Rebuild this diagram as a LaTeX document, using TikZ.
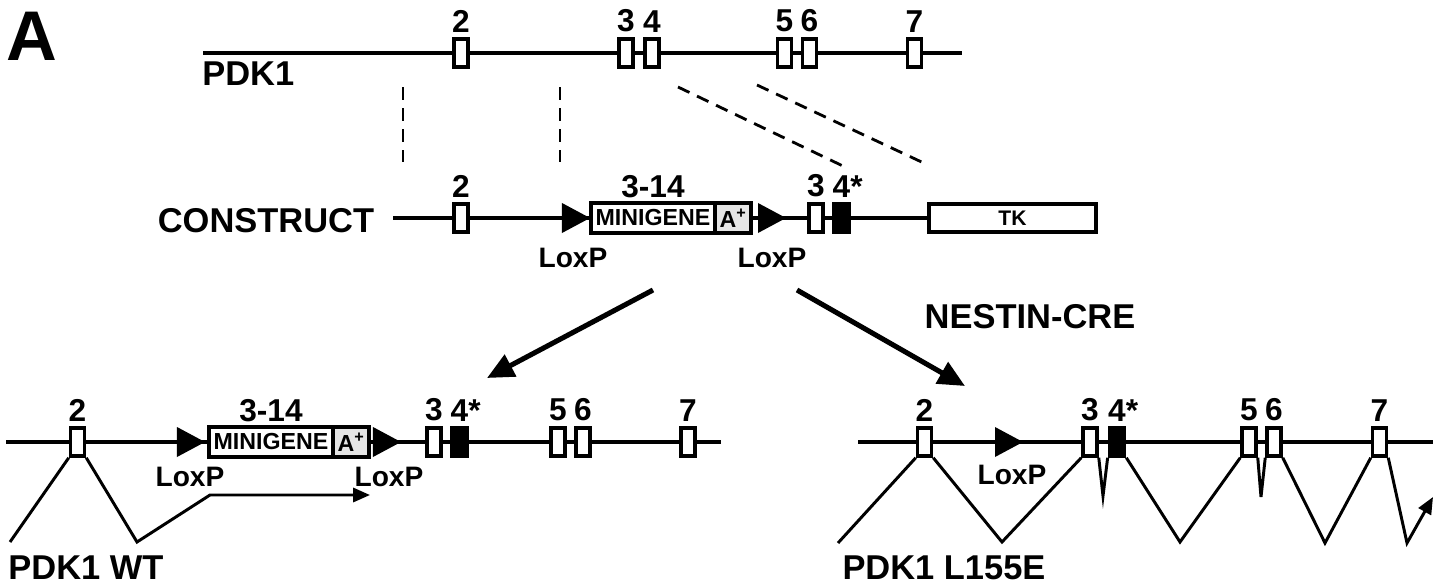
\documentclass[tikz,border=0pt]{standalone}
\usepackage{fontspec}
\setmainfont{Liberation Sans}
\usetikzlibrary{shapes.geometric, arrows.meta, positioning}

\begin{document}
\begin{tikzpicture}[
  x=0.025cm, y=-0.025cm,
  dna/.style={line width=2.85pt},
  splice/.style={line width=2.1pt},
  link/.style={line width=2pt, dash pattern=on 9pt off 6pt},
  exon/.style={rectangle, draw, line width=2.5pt, fill=white, minimum width=0.35cm,
               minimum height=0.7cm, inner sep=0pt},
  mut/.style={exon, fill=black, minimum width=0.38cm},
  loxp/.style={isosceles triangle, isosceles triangle stretches, fill=black, inner sep=0pt,
               outer sep=0pt, minimum width=0.75cm, minimum height=0.7cm, anchor=apex},
  mini/.style={rectangle, draw, line width=2.85pt, fill=white, minimum width=3.1cm,
               minimum height=0.73cm, inner sep=0pt, outer sep=0pt,
               font=\bfseries\fontsize{16.5}{16.5}\selectfont},
  polya/.style={mini, fill=black!10, minimum width=0.9cm},
  tkbox/.style={rectangle, draw, line width=2.85pt, fill=white, minimum width=4.18cm,
                minimum height=0.68cm, inner sep=0pt, font=\bfseries\fontsize{15}{15}\selectfont},
  num/.style={font=\bfseries\fontsize{22.5}{22.5}\selectfont, inner sep=0pt},
  lox/.style={font=\bfseries\fontsize{20}{20}\selectfont, inner sep=0pt},
  big/.style={font=\bfseries\fontsize{24.5}{24.5}\selectfont, inner sep=0pt, anchor=base},
  cre/.style={-{Triangle[length=19pt, width=17pt]}, line width=3.6pt},
  tx/.style={-{Triangle[length=12pt, width=10pt]}, splice},
  every label/.style={num, yshift=3.5pt},
]
\useasboundingbox (0,0) rectangle (1448,586);

\node[font=\bfseries\fontsize{50}{50}\selectfont, inner sep=0pt, anchor=base west] (panel) at (6,60) {A};

% endogenous locus
\coordinate (tl) at (203,53);
\coordinate (tr) at (962,53);
\draw[dna] (tl) -- (tr);
\node[exon, label=above:2] (t2) at (461,53) {};
\node[exon, label=above:3] (t3) at (626,53) {};
\node[exon, label=above:4] (t4) at (652,53) {};
\node[exon, label=above:5] (t5) at (784.5,53) {};
\node[exon, label=above:6] (t6) at (809.5,53) {};
\node[exon, label=above:7] (t7) at (914.5,53) {};
\node[big, anchor=base west] (pdk) at (202,85) {PDK1};

% homology arms
\coordinate (d1a) at (403,87);  \coordinate (d1b) at (403,162);
\coordinate (d2a) at (560,87);  \coordinate (d2b) at (560,162);
\coordinate (d3a) at (678,87);  \coordinate (d3b) at (845,167);
\coordinate (d4a) at (757,85);  \coordinate (d4b) at (928,165);
\draw[link] (d1a) -- (d1b);
\draw[link] (d2a) -- (d2b);
\draw[link] (d3a) -- (d3b);
\draw[link] (d4a) -- (d4b);

% targeting construct
\node[tkbox] (tk) at (1012.5,218) {TK};
\coordinate (cl) at (393,218);
\draw[dna] (cl) -- (tk.west);
\node[exon, label=above:2] (c2) at (461,218) {};
\node[loxp] (cx1) at (590,218) {};
\node[mini, anchor=west, label=above:3-14] (cm) at (591,218) {MINIGENE};
\node[polya, right=0pt of cm] (cpa) {A\textsuperscript{+}};
\node[loxp] (cx2) at (786,218) {};
\node[exon, label=above:3] (c3) at (816,218) {};
\node[mut, label={above:{4\rlap{*}}}] (c4) at (841.5,218) {};
\node[lox] (clx1) at (573,258) {LoxP};
\node[lox] (clx2) at (772,258) {LoxP};
\node[big] (con) at (266,232) {CONSTRUCT};

% recombination
\coordinate (a1s) at (653,290);  \coordinate (a1e) at (487,378);
\coordinate (a2s) at (797,290);  \coordinate (a2e) at (965,386);
\draw[cre] (a1s) -- (a1e);
\draw[cre] (a2s) -- (a2e);
\node[big] (nes) at (1030,328) {NESTIN-CRE};

% wild type allele
\coordinate (wl) at (6,442);
\coordinate (wr) at (721,442);
\draw[dna] (wl) -- (wr);
\node[exon, label=above:2] (w2) at (77.5,442) {};
\node[loxp] (wx1) at (205,442) {};
\node[mini, anchor=west, label=above:3-14] (wm) at (209,442) {MINIGENE};
\node[polya, right=0pt of wm] (wpa) {A\textsuperscript{+}};
\node[loxp] (wx2) at (401,442) {};
\node[exon, label=above:3] (w3) at (434,442) {};
\node[mut, label={above:{4\rlap{*}}}] (w4) at (459.5,442) {};
\node[exon, label=above:5] (w5) at (558,442) {};
\node[exon, label=above:6] (w6) at (583,442) {};
\node[exon, label=above:7] (w7) at (688,442) {};
\node[lox] (wlx1) at (190,477) {LoxP};
\node[lox] (wlx2) at (389,477) {LoxP};
\coordinate (wa) at (10,542);
\coordinate (wb) at (137,542);
\coordinate (wc) at (210,495);
\coordinate (wd) at (370,495);
\draw[splice] (wa) -- (w2.south west);
\draw[tx] (w2.south east) -- (wb) -- (wc) -- (wd);
\node[big] (wt) at (86,579) {PDK1 WT};

% knock-in allele
\coordinate (rl) at (858,442);
\coordinate (rr) at (1433,442);
\draw[dna] (rl) -- (rr);
\node[exon, label=above:2] (r2) at (924.5,442) {};
\node[loxp] (rx) at (1023,442) {};
\node[exon, label=above:3] (r3) at (1090,442) {};
\node[mut, label={above:{4\rlap{*}}}] (r4) at (1117,442) {};
\node[exon, label=above:5] (r5) at (1249,442) {};
\node[exon, label=above:6] (r6) at (1274,442) {};
\node[exon, label=above:7] (r7) at (1379.5,442) {};
\node[lox] (rlx) at (1012,475) {LoxP};
\coordinate (ra) at (838,543);
\coordinate (rb) at (1002,542);
\coordinate (rc) at (1103,496);
\coordinate (rd) at (1180,542);
\coordinate (re) at (1261,497);
\coordinate (rf) at (1325,543);
\coordinate (rg) at (1407,543);
\coordinate (rh) at (1433,497);
\draw[splice] (ra) -- (r2.south west);
\draw[splice] (r2.south east) -- (rb) -- (r3.south west);
\draw[splice] (r3.south east) -- (rc) -- (r4.south west);
\draw[splice] (r4.south east) -- (rd) -- (r5.south west);
\draw[splice] (r5.south east) -- (re) -- (r6.south west);
\draw[splice] (r6.south east) -- (rf) -- (r7.south west);
\draw[tx] (r7.south east) -- (rg) -- (rh);
\node[big] (ki) at (944,579) {PDK1 L155E};
\end{tikzpicture}
\end{document}
